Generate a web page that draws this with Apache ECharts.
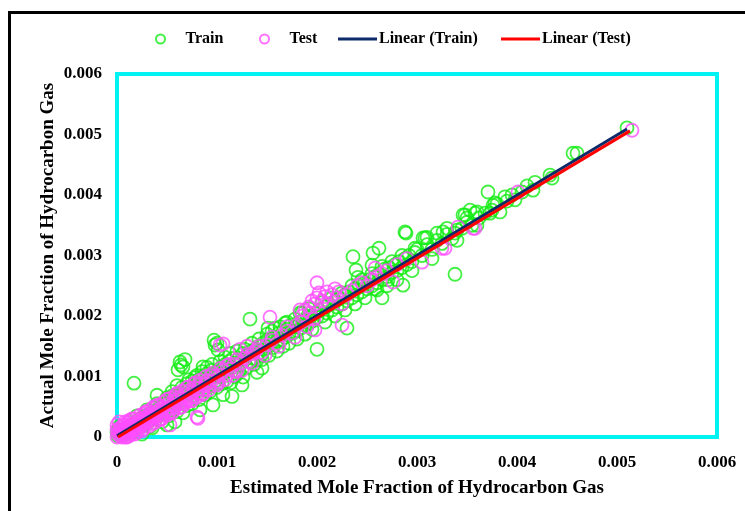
<!DOCTYPE html>
<html>
<head>
<meta charset="utf-8">
<script src="https://cdn.jsdelivr.net/npm/echarts@6/dist/echarts.min.js"></script>
<style>html,body{margin:0;padding:0;background:#fff;}#c{width:745px;height:511px;}</style>
</head>
<body>
<div id="c"></div>
<script>
// Axis range / tick values
const axisTicks = [0, 0.001, 0.002, 0.003, 0.004, 0.005, 0.006];
const legendNames = ['Train', 'Test', 'Linear (Train)', 'Linear (Test)'];

// Train data: [estimated, actual]
const trainData = [
[.00001,.00002],[.00002,.00017],[0,.00008],[.00003,.00004],[.00005,.00012],[.00006,.00003],[.00008,.00009],[.00009,.00015],[.0001,.00005],[.00012,.00013],[.00013,.0002],[.00015,.0001],[.00016,.00017],[.00017,.00089],[.00018,.00025],[.0002,.00014],[.00021,.00022],[.00023,.0003],[.00025,.00018],[.00026,.00027],[.00028,.00035],[.0003,.00022],[.0003,.0003],[.00033,.00017],[.00032,.00038],
[.00035,.0003],[.00036,.00042],[.00038,.00033],[.0004,.00069],[.0004,.00045],[.00042,.00036],[.00044,.0005],[.00046,.0004],[.00048,.00055],[.0005,.0002],[.0005,.00047],[.00052,.0006],[.00054,.0005],[.00055,.00075],[.00056,.00062],[.00058,.00025],[.00058,.00055],[.0006,.00085],[.0006,.00068],[.00061,.00111],[.00063,.00124],[.00064,.00119],[.00064,.00072],[.00066,.00116],[.00066,.0004],[.00068,.00128],[.00068,.00078],[.00069,.00062],[.0007,.00088],[.00071,.0007],[.00072,.0008],[.00074,.00075],[.00075,.00092],[.00076,.00068],[.00078,.00082],[.00078,.00098],[.0008,.00076],[.0008,.0009],
[.00083,.00045],[.00082,.00095],[.00084,.00085],[.00086,.001],[.00086,.00116],[.00088,.0009],[.0009,.00105],[.0009,.00082],[.00092,.00095],[.00094,.0011],[.00096,.00053],[.00095,.001],[.00097,.0016],[.00098,.00152],[.00098,.00092],[.001,.00108],[.001,.00155],[.00101,.00144],[.00102,.001],[.00104,.00115],[.00106,.00105],[.00106,.0007],[.00108,.0012],[.0011,.0011],[.00112,.00125],[.00114,.0009],[.00115,.00067],[.00115,.00115],[.00116,.0013],[.00118,.0012],[.0012,.00105],[.00122,.0013],[.00124,.00122],[.00125,.00086],[.00126,.00099],[.00126,.00138],[.00128,.00128],
[.0013,.00135],[.00132,.00125],[.00133,.00195],[.00134,.00142],[.00136,.0013],[.00138,.00145],[.0014,.00127],[.0014,.00107],[.00141,.00138],[.00142,.0015],[.00144,.00135],[.00145,.00114],[.00146,.00155],[.00148,.00145],[.0015,.0016],[.00151,.0018],[.00152,.0015],[.00154,.00162],[.00156,.00148],[.00158,.0018],[.00158,.00165],[.0016,.00158],[.00162,.00172],[.00164,.0016],[.00166,.00175],[.00168,.00188],[.00168,.00165],[.0017,.00178],[.00172,.0017],[.00174,.00185],[.00176,.00172],[.00178,.00182],[.0018,.00176],[.00182,.0019],[.00183,.00205],[.00184,.0018],[.00186,.00192],[.00188,.00185],[.0019,.00198],[.00192,.00188],[.00194,.002],[.00196,.00192],[.00198,.00205],[.002,.00145],[.002,.00198],
[.00202,.0021],[.00205,.002],[.00208,.00215],[.0021,.00205],[.00212,.0022],[.00215,.0021],[.00218,.00225],[.0022,.00215],[.00222,.0023],[.00225,.0022],[.00228,.00235],[.0023,.0018],[.0023,.00225],[.00232,.0024],[.00235,.0023],[.00236,.00298],[.00238,.00245],[.00239,.00276],[.0024,.00235],[.00241,.00264],[.00242,.0025],[.00245,.0024],[.00248,.00255],[.0025,.00245],[.00252,.0026],[.00255,.0025],[.00255,.00284],[.00256,.00304],[.00258,.00265],[.0026,.00243],[.0026,.00255],[.00262,.00312],[.00262,.0027],[.00265,.0023],[.00265,.0026],[.00268,.00278],[.0027,.00265],[.00271,.0026],[.00272,.0028],[.00275,.00272],[.00278,.00285],[.0028,.00275],[.00282,.0029],[.00285,.0028],[.00286,.00251],[.00288,.00295],[.00288,.00339],[.00289,.00337],[.0029,.00285],[.00292,.003],[.00295,.0029],[.00298,.00305],[.00298,.00312],
[.003,.0031],[.00305,.003],[.00306,.00329],[.00308,.00329],[.0031,.00318],[.00315,.0031],[.0032,.00337],[.0032,.00325],[.00325,.0032],[.00326,.00339],[.0033,.00335],[.00335,.00328],[.00338,.00337],[.00338,.00269],[.0034,.00342],[.00345,.00345],[.00346,.00367],[.00348,.00367],[.0035,.00355],[.00353,.00375],[.00355,.0035],[.00358,.0037],[.0036,.00372],[.00362,.00362],[.00368,.0037],[.00371,.00405],[.00373,.0037],[.00375,.00375],[.00376,.00383],[.00378,.00387],[.0038,.00385],[.00383,.00372],[.00388,.00397],[.0039,.0039],[.00395,.004],[.00398,.00392],
[.00405,.00405],[.0041,.00415],[.00416,.00408],[.00418,.00421],[.00433,.00433],[.00435,.00428],[.00456,.00469],[.0046,.00469],[.0051,.00511],
[.0002,.00035],[.00025,.00005],[.0003,.00045],[.00035,.00015],[.0004,.00055],[.00045,.00025],[.0005,.00065],[.00052,.00035],[.00055,.00068],[.0006,.00042],[.00065,.00082],[.0007,.00052],[.00072,.00095],[.00075,.00055],[.0008,.00102],[.00082,.00062],[.00085,.00108],[.00088,.0007],[.0009,.00115],[.00093,.00075],[.00095,.0012],[.001,.00082],[.00103,.00125],[.00105,.00088],[.00108,.00132],[.0011,.00092],[.00113,.00138],[.00118,.001],[.0012,.00142],[.00122,.00108],[.00128,.00145],[.0013,.00115],[.00135,.00155],[.00137,.0012],[.00142,.00162],[.00145,.00128],[.0015,.0017],[.00152,.00135],[.00155,.00175],[.0016,.00142],[.00163,.00182],[.00166,.0015],[.0017,.0019],[.00172,.00155],[.00178,.00195],[.0018,.00162],[.00185,.00205],[.00188,.0017],[.00192,.00212],[.00195,.00178],[.00205,.00222],[.00208,.0019],[.00215,.0023],[.00218,.002],[.00225,.00238],[.00228,.0021],[.00235,.0025],[.00238,.0022],[.00245,.0026],[.00248,.0023],[.00255,.0027],[.00258,.00245],[.00265,.00282],[.0027,.0025],[.00275,.0029],[.0028,.0026],[.00285,.003],[.00295,.00275],[.0031,.0033],[.00315,.00295],[.0033,.00345],[.0034,.00325],[.0035,.00362],[.0036,.0035]
];

// Test data: [estimated, actual]
const testData = [
[0,0],[.00001,.00005],[.00002,.0001],[.00003,.00002],[.00004,.00007],[.00005,.00012],[.00006,.00004],[.00007,.00009],[.00008,.00014],[.00009,.00006],[.0001,.00011],[.00011,.00017],[.00012,.00008],[.00013,.00014],[.00014,.0002],[.00015,.00011],[.00016,.00016],[.00017,.00022],[.00018,.00013],[.00019,.00019],[.0002,.00025],[.00021,.00016],[.00022,.00021],[.00023,.00028],[.00024,.00018],[.00025,.00024],[.00026,.00031],[.00027,.00021],[.00028,.00027],[.00029,.00033],[.0003,.00024],[.00031,.0003],[.00032,.00036],[.00033,.00027],[.00034,.00033],[.00035,.00039],[.00036,.0003],[.00037,.00036],[.00038,.00042],[.00039,.00033],[.0004,.00038],[.00042,.00044],[.00043,.00036],[.00045,.00043],[.00046,.00049],[.00048,.00041],[.0005,.00048],[.00051,.00054],[.00053,.00046],[.00053,.0002],[.00055,.00053],[.00057,.0006],[.00058,.0005],[.0006,.00058],[.00062,.00065],[.00063,.00055],[.00065,.00063],[.00067,.0007],[.00069,.0006],[.0007,.00068],[.00072,.00076],[.00074,.00066],[.00076,.00074],[.00078,.00082],[.0008,.00072],[.0008,.00033],[.00081,.00031],[.00082,.0008],[.00084,.00088],[.00086,.00078],[.00088,.00086],[.0009,.00093],[.00092,.00084],[.00095,.00092],[.00098,.001],[.001,.00092],[.00103,.00102],[.00103,.00152],[.00106,.0011],[.00106,.00154],[.0011,.00102],[.00113,.00112],[.00117,.0012],[.0012,.0011],[.00124,.00122],[.00123,.00145],[.00128,.0013],[.0013,.0015],[.00132,.00125],[.00136,.00138],[.00138,.00142],[.0014,.00145],[.00145,.0014],[.0015,.00152],[.00153,.00198],[.00155,.0016],[.0016,.00155],[.00165,.00168],[.0017,.00175],[.00175,.00172],[.0018,.00185],[.00183,.0021],[.00185,.0019],
[0,.0002],[.00002,.00025],[.00008,.00025],[.00012,.00002],[.00018,.00005],[.00005,0],[.0001,0],[0,.00012],[.00015,.0003],[.00025,.0001],[.00035,.00022],[.0003,.00042],[.00045,.0003],[.0004,.00052],[.00055,.0004],[.0005,.00062],[.00065,.0005],[.0006,.00072],[.00075,.0006],[.0007,.00082],
[.00005,.00018],[.00008,0],[.00011,.00024],[.00014,.00004],[.00017,.0003],[.0002,.00008],[.00023,.00036],[.00026,.00013],[.00029,.00042],[.00032,.00018],[.00035,.00047],[.00038,.00024],[.00041,.00053],[.00044,.0003],[.00047,.00058],[.0005,.00036],[.00053,.00064],[.00056,.00042],[.00059,.0007],[.00062,.00048],[.00065,.00076],[.00068,.00055],[.00071,.00082],[.00074,.0006],[.00077,.00088],[.0008,.00066],[.00083,.00094],[.00086,.00072],[.00089,.001],[.00092,.00078],[.00096,.00106],[.001,.00086],[.00104,.00114],[.00108,.00095],[.00112,.0012],[.00116,.00102],[.0012,.00128],[.00125,.0011],[.0013,.00136],[.00135,.00122],[.00142,.0015],[.00148,.00135],[.00155,.00165],[.00162,.0015],[.0017,.00182],[.00178,.00165],[.00185,.002],[.0019,.00182],
[.00003,.00014],[.00007,.0002],[.00012,.00027],[.00022,.00012],[.00027,.00038],[.00037,.0005],[.00042,.00028],[.00052,.0004],[.00058,.00066],[.00067,.00058],[.00072,.00062],[.00079,.0009],[.00085,.0007],[.00094,.00102],[.00102,.0009],[.0011,.00118],[.00118,.00108],
[.00188,.0021],[.00192,.00215],[.00193,.00205],[.00195,.00225],[.00197,.00195],[.00198,.00177],[.00198,.0022],[.002,.0023],[.002,.00255],[.00202,.00238],[.00205,.00225],[.00208,.00232],[.0021,.0024],[.00212,.0022],[.00215,.00235],[.00218,.00245],[.0022,.0023],[.00222,.0024],[.00225,.0022],[.00225,.00185],[.0023,.00235],[.00235,.00242],[.0024,.0025],[.00245,.00255],[.0025,.0025],[.00255,.0026],[.00258,.00279],[.0026,.00265],[.00265,.0027],[.0027,.00275],[.00276,.00256],[.0028,.00285],[.0029,.00295],[.00305,.00289],[.00325,.00312],[.00328,.00312],[.00341,.00347],[.00356,.00345],[.00358,.00345],[.00401,.00405],[.00515,.00507]
];

// Linear trend line end points
const trainLine = [[0, .00002], [.0051, .00509]];
const testLine = [[.00001, 0], [.00513, .00506]];

const FONT = 'Liberation Serif';
const chart = echarts.init(document.getElementById('c'), null, {renderer: 'canvas'});
const axisCommon = {
  type: 'value',
  min: axisTicks[0],
  max: axisTicks[axisTicks.length - 1],
  interval: axisTicks[1] - axisTicks[0],
  axisLine: {show: false},
  axisTick: {show: false},
  splitLine: {show: false},
  nameLocation: 'middle',
  nameMoveOverlap: false,
  nameTextStyle: {fontFamily: FONT, fontWeight: 'bold', fontSize: 19, color: '#000'},
  axisLabel: {fontFamily: FONT, fontWeight: 'bold', fontSize: 17, color: '#000'}
};
const lineIcon = 'path://M0,0 L40,0 L40,3 L0,3 Z';
const legendLefts = [150, 254, 333, 496];
const legends = legendNames.map((n, i) => ({
  top: 26, left: legendLefts[i],
  itemWidth: i < 2 ? 40 : 39, itemHeight: 9, itemGap: 0,
  textStyle: {fontFamily: FONT, fontWeight: 'bold', fontSize: 16, color: '#000', padding: i < 2 ? 0 : [0, 0, 0, -3]},
  data: [i < 2 ? n : {name: n, icon: lineIcon}]
}));
chart.setOption({
  backgroundColor: '#fff',
  animation: false,
  graphic: [{
    type: 'rect', z: 100,
    shape: {x: 9.5, y: 12.5, width: 900, height: 700},
    style: {fill: 'none', stroke: '#000', lineWidth: 3}
  }],
  legend: legends,
  grid: {
    left: 117, top: 74, width: 600, height: 363,
    show: true, borderColor: '#00f2f2', borderWidth: 4, backgroundColor: 'transparent'
  },
  xAxis: Object.assign({}, axisCommon, {
    name: 'Estimated Mole Fraction of Hydrocarbon Gas', nameGap: 42,
    axisLabel: Object.assign({}, axisCommon.axisLabel, {margin: 17})
  }),
  yAxis: Object.assign({}, axisCommon, {
    name: 'Actual Mole Fraction of Hydrocarbon Gas', nameGap: 59,
    axisLabel: Object.assign({}, axisCommon.axisLabel, {margin: 15})
  }),
  series: [
    {name: 'Train', type: 'scatter', data: trainData, symbol: 'circle', symbolSize: 13, clip: false,
     itemStyle: {color: 'rgba(0,0,0,0)', borderColor: '#14ec14', borderWidth: 1.8}},
    {name: 'Test', type: 'scatter', data: testData, symbol: 'circle', symbolSize: 13, clip: false,
     itemStyle: {color: 'rgba(0,0,0,0)', borderColor: '#ff4dff', borderWidth: 1.8}},
    {name: 'Linear (Train)', type: 'line', data: trainLine, symbol: 'none', z: 5,
     lineStyle: {color: '#0d2a6b', width: 3}, itemStyle: {color: '#0d2a6b'}},
    {name: 'Linear (Test)', type: 'line', data: testLine, symbol: 'none', z: 6,
     lineStyle: {color: '#ff0000', width: 3}, itemStyle: {color: '#ff0000'}}
  ]
});
</script>
</body>
</html>
